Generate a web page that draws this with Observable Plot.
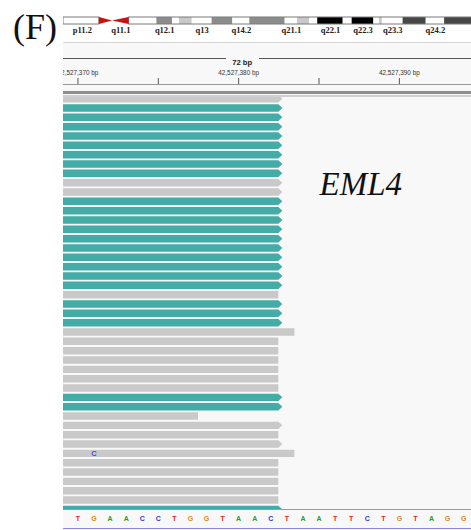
<!DOCTYPE html>
<html>
<head>
<meta charset="utf-8">
<script src="https://cdn.jsdelivr.net/npm/d3@7"></script>
<script src="https://cdn.jsdelivr.net/npm/@observablehq/plot@0.6"></script>
<style>
  html, body { margin: 0; padding: 0; background: #ffffff; }
  #fig { position: relative; width: 471px; height: 530px; overflow: hidden; background: #ffffff;
         font-family: "Liberation Sans", Arial, sans-serif; }
  #panelBg { position: absolute; left: 63px; top: 43px; width: 408px; height: 487px; background: #f8f8f8; }
  .panel { position: absolute; left: 63px; width: 408px; overflow: hidden; }
  .panel svg { display: block; overflow: hidden; }
  .hline { position: absolute; height: 1px; }
  #tag { position: absolute; left: 13px; top: 9px; font-family: "Liberation Serif", "Times New Roman", serif;
         font-size: 36px; line-height: 36px; color: #111; }
</style>
</head>
<body>
<div id="fig">
  <div id="panelBg"></div>
  <div id="tag">(F)</div>
  <div id="ideo" class="panel" style="top:0;height:42px"></div>
  <div class="hline" style="left:63px;width:408px;top:42px;background:#d4d4d4"></div>
  <div id="spanL" class="hline" style="top:58px;background:#555"></div>
  <div id="spanR" class="hline" style="top:58px;background:#555"></div>
  <div id="ruler" class="panel" style="top:43px;height:41px"></div>
  <div class="hline" style="left:63px;width:408px;top:84px;background:#9a9a9a"></div>
  <div class="hline" style="left:63px;width:408px;top:91px;height:3px;background:#8e8e8e"></div>
  <div class="hline" style="left:63px;width:408px;top:95px;height:2px;background:#d0d0d0"></div>
  <div id="reads" class="panel" style="top:97px;height:412px"></div>
  <div class="hline" style="left:63px;width:408px;top:509px;background:#9c9c9c"></div>
  <div id="seq" class="panel" style="top:510px;height:20px"></div>
  <div class="hline" style="left:63px;width:408px;top:528px;background:#8a8ae6"></div>
</div>
<script>
// ---- chr2 cytobands (hg19), in Mb ----
const bandName  = ["p11.2","p11.1","q11.1","q11.2","q12.1","q12.2","q12.3","q13","q14.1","q14.2","q14.3","q21.1",
                   "q21.2","q21.3","q22.1","q22.2","q22.3","q23.1","q23.2","q23.3","q24.1","q24.2","q24.3"];
const bandStart = [83.3,90.5,93.3,96.8,102.7,106.0,107.5,110.2,114.4,118.8,122.4,129.9,
                   132.5,135.1,136.8,142.2,144.1,148.7,149.9,150.5,154.9,159.8,163.7];
const bandEnd   = [90.5,93.3,96.8,102.7,106.0,107.5,110.2,114.4,118.8,122.4,129.9,132.5,
                   135.1,136.8,142.2,144.1,148.7,149.9,150.5,154.9,159.8,163.7,169.7];
const bandStain = ["gneg","acen","acen","gneg","gpos50","gneg","gpos25","gneg","gpos50","gneg","gpos50","gneg",
                   "gpos25","gneg","gpos100","gneg","gpos100","gneg","gpos25","gneg","gpos75","gneg","gpos75"];
const bandLabels = ["p11.2","q11.1","q12.1","q13","q14.2","q21.1","q22.1","q22.3","q23.3","q24.2"];
const ideogramView = [82.9, 169.4];

// ---- locus view (chr2) ----
const viewStart = 42527369.1;
const viewEnd   = 42527394.49;
const spanBp = 72;
const spanCenter = 42527380.22;
const tickPos = [42527370, 42527375, 42527380, 42527385, 42527390];

// ---- reference sequence ----
const seqStart = 42527370;
const refSeq = "TGAACCTGGTAACTAATTCTGTAGG";

// ---- alignments (one per row, rows -1 .. 43) ----
const readRow = d3.range(-1, 44);
const readGroup = [
  "plain",
  "split","split","split","split","split","split","split","split",
  "plain","plain",
  "split","split","split","split","split","split","split","split","split","split",
  "plain",
  "split","split","split",
  "plain","plain","plain","plain","plain","plain","plain",
  "split","split",
  "plain","plain","plain","plain","plain","plain","plain","plain","plain","plain",
  "split"
];
const readStrand = [
  "+",
  "+","+","+","+","+","+","+","+",
  "+","+",
  "+","+","+","+","+","+","+","+","+","+",
  "-",
  "+","+","+",
  "-","-","-","-","-","-","-",
  "+","+",
  "-","+","-","+","-","-","-","-","-","-",
  "+"
];
const readLastBase = readRow.map(() => 42527382);
readLastBase[25] = 42527383;   // row 24
readLastBase[34] = 42527377;   // row 33
readLastBase[38] = 42527383;   // row 37
const readLength = 100;
const mismatches = [{row: 37, pos: 42527371, base: "C"}];
const geneLabels = [{label: "EML4", pos: 42527387.6, row: 8.1}];
const visibleRows = [-1.1786, 42.96];

// ---- styles ----
const stainFill = {gneg: "#ffffff", gpos25: "#c8c8c8", gpos50: "#8c8c8c", gpos75: "#474747", gpos100: "#000000"};
const groupFill = {split: "#44aca7", plain: "#c9c9c9"};
const baseColor = {A: "#2c9a2c", C: "#3636e0", G: "#d6892c", T: "#e42424"};
const fmt = d3.format(",");
const baseStyle = {background: "transparent", overflow: "hidden", fontFamily: "Liberation Sans, Arial, sans-serif"};

// ---- ideogram ----
const bands = bandName.map((name, i) => ({name, start: bandStart[i], end: bandEnd[i], stain: bandStain[i]}));
const acen = bands.filter(b => b.stain === "acen");
const cenShape = [
  {x: acen[0].start, lo: 0,   hi: 1},
  {x: acen[0].end,   lo: 0.5, hi: 0.5},
  {x: acen[1].end,   lo: 0,   hi: 1}
];
const arms = [
  {x1: ideogramView[0], x2: acen[0].start},
  {x1: acen[1].end, x2: ideogramView[1] + 2}
];
const ideo = Plot.plot({
  width: 408, height: 42, marginTop: 17, marginBottom: 18, marginLeft: 0, marginRight: 0,
  x: {domain: ideogramView, axis: null},
  y: {domain: [0, 1], axis: null},
  color: {type: "identity"},
  style: baseStyle,
  marks: [
    Plot.rect(bands.filter(b => b.stain !== "acen"), {x1: "start", x2: "end", fill: d => stainFill[d.stain]}),
    Plot.rect(arms, {x1: "x1", x2: "x2", fill: "none", stroke: "#7a7a7a", strokeWidth: 1}),
    Plot.areaY(cenShape, {x: "x", y1: "lo", y2: "hi", fill: "#cc1010"}),
    Plot.text(bands.filter(b => bandLabels.includes(b.name)), {
      x: d => (d.start + d.end) / 2, text: "name", frameAnchor: "bottom", lineAnchor: "top", dy: 2,
      fontFamily: "Liberation Serif, serif", fontWeight: "bold", fontSize: 8.5, fill: "#222"
    })
  ]
});
document.getElementById("ideo").appendChild(ideo);

// ---- ruler ----
const ruler = Plot.plot({
  width: 408, height: 41, marginTop: 35, marginBottom: 0, marginLeft: 0, marginRight: 0,
  x: {domain: [viewStart, viewEnd], axis: null},
  style: baseStyle,
  marks: [
    Plot.tickX(tickPos, {x: d => d, stroke: "#555"}),
    Plot.text(tickPos.filter(p => p % 10 === 0), {
      x: d => d, text: d => fmt(d) + " bp", frameAnchor: "top", lineAnchor: "bottom", dy: -3.5,
      fontSize: 6.4, fill: "#333"
    }),
    Plot.text([spanBp], {
      x: () => spanCenter, text: d => d + " bp", frameAnchor: "top", dy: -19,
      fontSize: 7.7, fontWeight: "bold", fill: "#222"
    })
  ]
});
document.getElementById("ruler").appendChild(ruler);

// the span line is split around its label
const cx = ruler.scale("x").apply(spanCenter);
const spanL = document.getElementById("spanL"), spanR = document.getElementById("spanR");
spanL.style.left = "63px"; spanL.style.width = (cx - 16) + "px";
spanR.style.left = (63 + cx + 17) + "px"; spanR.style.width = (408 - cx - 17) + "px";

// ---- alignments ----
const half = 0.4, tip = 0.25;
const readShapes = readRow.flatMap((row, i) => {
  const end = readLastBase[i] + 0.5, start = end - readLength, g = readGroup[i];
  const pts = [
    {id: i, x: start, y1: row - half, y2: row + half, g},
    {id: i, x: end,   y1: row - half, y2: row + half, g}
  ];
  if (readStrand[i] === "+") pts.push({id: i, x: end + tip, y1: row, y2: row, g});
  return pts;
});
const reads = Plot.plot({
  width: 408, height: 412, marginTop: 0, marginBottom: 0, marginLeft: 0, marginRight: 0,
  x: {domain: [viewStart, viewEnd], axis: null},
  y: {domain: visibleRows, reverse: true, axis: null},
  color: {type: "identity"},
  style: baseStyle,
  marks: [
    Plot.areaY(readShapes, {x: "x", y1: "y1", y2: "y2", z: "id", fill: d => groupFill[d.g]}),
    Plot.text(mismatches, {x: "pos", y: "row", text: "base", fill: "#4a4ad8", fontWeight: "bold", fontSize: 7.5}),
    Plot.text(geneLabels, {
      x: "pos", y: "row", text: "label", fontFamily: "Liberation Serif, serif", fontStyle: "italic",
      fontSize: 33, fill: "#111"
    })
  ]
});
document.getElementById("reads").appendChild(reads);

// ---- reference sequence ----
const seq = refSeq.split("").map((base, i) => ({pos: seqStart + i, base}));
const seqPlot = Plot.plot({
  width: 408, height: 20, marginTop: 0, marginBottom: 0, marginLeft: 0, marginRight: 0,
  x: {domain: [viewStart, viewEnd], axis: null},
  color: {type: "identity"},
  style: baseStyle,
  marks: [
    Plot.text(seq, {x: "pos", text: "base", frameAnchor: "top", dy: 5.5, fill: d => baseColor[d.base],
                    fontWeight: "bold", fontSize: 7}),
    Plot.rect(seq, {x1: d => d.pos - 0.12, x2: d => d.pos + 0.12, insetTop: 18, insetBottom: 1, fill: "#3a3ac8"})
  ]
});
document.getElementById("seq").appendChild(seqPlot);
</script>
</body>
</html>
